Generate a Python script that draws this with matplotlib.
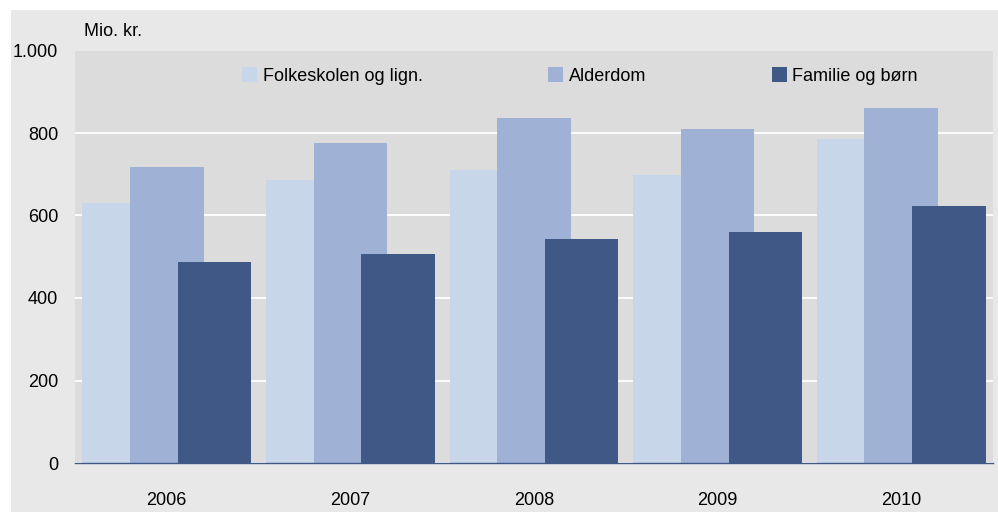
import matplotlib
matplotlib.use("Agg")
import matplotlib.pyplot as plt
import numpy as np
from matplotlib.patches import Rectangle

years = ["2006", "2007", "2008", "2009", "2010"]
folkeskolen = [630, 686, 710, 698, 785]
alderdom = [718, 776, 836, 810, 861]
familie = [487, 507, 543, 560, 623]
series_names = ["Folkeskolen og lign.", "Alderdom", "Familie og børn"]
y_ticks = [0, 200, 400, 600, 800, 1000]
y_tick_labels = ["0", "200", "400", "600", "800", "1.000"]

colors = ["#c8d6e9", "#9fb1d5", "#3f5886"]
plt.rcParams["font.family"] = ["Liberation Sans", "DejaVu Sans"]

fig = plt.figure(figsize=(9.98, 5.12), dpi=100)
fig.patch.set_facecolor("white")
fig.patches.append(Rectangle((11 / 998, 0), 1 - 11 / 998, 1 - 10 / 512,
                             transform=fig.transFigure, facecolor="#e8e8e8",
                             edgecolor="none", zorder=-10))

ax = fig.add_axes([75 / 998, (512 - 463) / 512, 918 / 998, 412.5 / 512])
ax.set_facecolor("#dcdcdc")

x = np.arange(len(years))
width = 0.40
offset = 0.26
b1 = ax.bar(x - offset, folkeskolen, width, color=colors[0], zorder=2, label=series_names[0])
b2 = ax.bar(x, alderdom, width, color=colors[1], zorder=3, label=series_names[1])
b3 = ax.bar(x + offset, familie, width, color=colors[2], zorder=4, label=series_names[2])

ax.set_xlim(-0.5, len(years) - 0.5)
ax.set_ylim(0, 1000)
ax.set_yticks(y_ticks)
ax.set_yticklabels(y_tick_labels)
ax.set_xticks(x)
ax.set_xticklabels(years)
ax.tick_params(axis="y", length=0, pad=12, labelsize=13)
ax.tick_params(axis="x", length=0, pad=21, labelsize=13)
ax.yaxis.grid(True, color="white", linewidth=1.3, zorder=1)
ax.set_axisbelow(True)
for s in ["top", "right", "left"]:
    ax.spines[s].set_visible(False)
ax.spines["bottom"].set_color("#3f5886")
ax.spines["bottom"].set_linewidth(1.0)
ax.spines["bottom"].set_zorder(5)

ax.text(84 / 998, 1 - 32 / 512, "Mio. kr.", transform=fig.transFigure,
        fontsize=13, va="center", ha="left")

ax.legend(handles=[b1, b2, b3], loc="center left", ncol=3,
          bbox_to_anchor=((242 - 75) / 918 - 0.008, (463 - 76) / 412.5),
          frameon=False, fontsize=13, handlelength=0.85, handleheight=0.85,
          handletextpad=0.3, columnspacing=6.95, borderaxespad=0)

fig.savefig("out.png", dpi=100, facecolor=fig.get_facecolor())
